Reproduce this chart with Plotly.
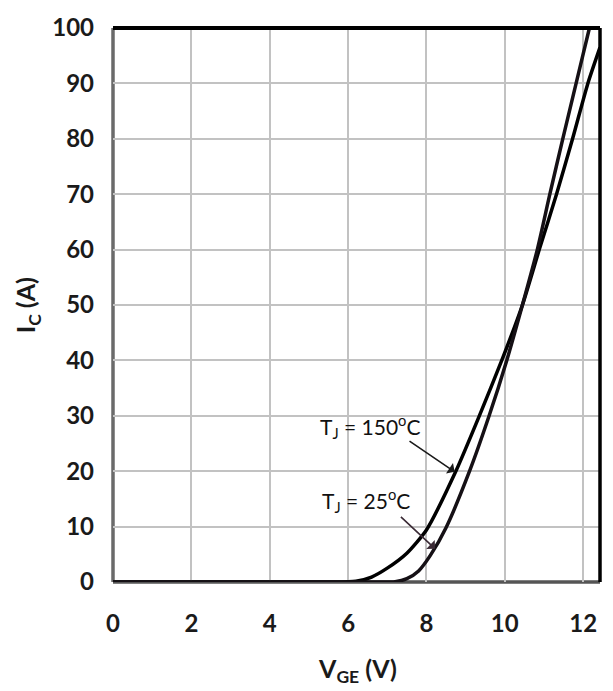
import plotly.graph_objects as go

# Data (V_GE in volts, I_C in amperes)
vge_150 = [0, 3, 5.5, 6.2, 6.6, 7.0, 7.5, 8.0, 8.75, 9.35, 9.95, 10.45, 10.88, 11.32, 11.73, 12.12, 12.43]
ic_150 = [0, 0, 0, 0.15, 0.9, 2.5, 5.2, 9.4, 20, 30, 40.5, 50, 60, 70, 80, 90, 96.5]

vge_25 = [0, 3, 6.5, 7.2, 7.5, 7.8, 8.1, 8.5, 9.1, 9.6, 10.05, 10.45, 10.83, 11.15, 11.48, 11.82, 12.16]
ic_25 = [0, 0, 0, 0.05, 0.6, 2.0, 4.8, 9.8, 20, 30, 40, 50, 60, 70, 80, 90, 100]

x_ticks = [0, 2, 4, 6, 8, 10, 12]
y_ticks = [0, 10, 20, 30, 40, 50, 60, 70, 80, 90, 100]

FONT = "Lato"

fig = go.Figure()

# Frame (left / bottom sit between grid and traces)
fig.add_shape(type="line", xref="paper", yref="paper", x0=0, x1=0, y0=0, y1=1, layer="between",
              line=dict(color="#6a6a6a", width=3.5))
fig.add_shape(type="line", xref="paper", yref="paper", x0=0, x1=1, y0=0, y1=0, layer="between",
              line=dict(color="#555555", width=3.5))
fig.add_shape(type="line", xref="paper", yref="paper", x0=0, x1=1, y0=1, y1=1,
              line=dict(color="#000000", width=4))
fig.add_shape(type="line", xref="paper", yref="paper", x0=1, x1=1, y0=0, y1=1,
              line=dict(color="#000000", width=3.5))

fig.add_trace(go.Scatter(x=vge_150, y=ic_150, mode="lines", name="TJ = 150°C", cliponaxis=False,
                         line=dict(color="#000000", width=3.5, shape="spline", smoothing=0.6)))
fig.add_trace(go.Scatter(x=vge_25, y=ic_25, mode="lines", name="TJ = 25°C", cliponaxis=False,
                         line=dict(color="#151015", width=3.5, shape="spline", smoothing=0.6)))

fig.update_layout(
    width=613, height=691,
    margin=dict(l=113, r=13, t=24, b=109),
    paper_bgcolor="white", plot_bgcolor="white",
    showlegend=False,
    font=dict(family=FONT, color="#1a1a1a"),
    xaxis=dict(range=[0, 12.43], tickvals=x_ticks, ticktext=[str(v) for v in x_ticks],
               showgrid=True, gridcolor="#c2c2c2", gridwidth=1.5, zeroline=False,
               showline=False, ticks="", ticklabelstandoff=25,
               tickfont=dict(family=FONT, size=24, weight="bold", color="#1a1a1a")),
    yaxis=dict(range=[0, 100], tickvals=y_ticks, ticktext=[str(v) for v in y_ticks],
               showgrid=True, gridcolor="#c2c2c2", gridwidth=1.5, zeroline=False,
               showline=False, ticks="", ticklabelstandoff=18,
               tickfont=dict(family=FONT, size=24, weight="bold", color="#1a1a1a")),
)

# Axis titles
fig.add_annotation(text="I<sub>C</sub> (A)", xref="paper", yref="paper", x=-0.176, y=0.5,
                   textangle=-90, showarrow=False, xanchor="center", yanchor="middle",
                   font=dict(family=FONT, size=25, weight="bold", color="#1a1a1a"))
fig.add_annotation(text="V<sub>GE</sub> (V)", xref="paper", yref="paper", x=0.503, y=-0.158,
                   showarrow=False, xanchor="center", yanchor="middle",
                   font=dict(family=FONT, size=25, weight="bold", color="#1a1a1a"))

# Curve labels
fig.add_annotation(text="T<sub>J</sub> = 150<sup>o</sup>C", x=6.55, y=28.0, xref="x", yref="y",
                   showarrow=False, xanchor="center", yanchor="middle",
                   font=dict(family=FONT, size=21, color="#111111"))
fig.add_annotation(text="", x=8.72, y=19.9, ax=7.53, ay=25.6, xref="x", yref="y",
                   axref="x", ayref="y", showarrow=True, arrowhead=1, arrowsize=1.3,
                   arrowwidth=1.6, arrowcolor="#1a1a1a")
fig.add_annotation(text="T<sub>J</sub> = 25<sup>o</sup>C", x=6.47, y=14.7, xref="x", yref="y",
                   showarrow=False, xanchor="center", yanchor="middle",
                   font=dict(family=FONT, size=21, color="#111111"))
fig.add_annotation(text="", x=8.22, y=6.0, ax=7.31, ay=12.0, xref="x", yref="y",
                   axref="x", ayref="y", showarrow=True, arrowhead=1, arrowsize=1.3,
                   arrowwidth=1.6, arrowcolor="#3a2a35")

fig.write_html("out.html")
